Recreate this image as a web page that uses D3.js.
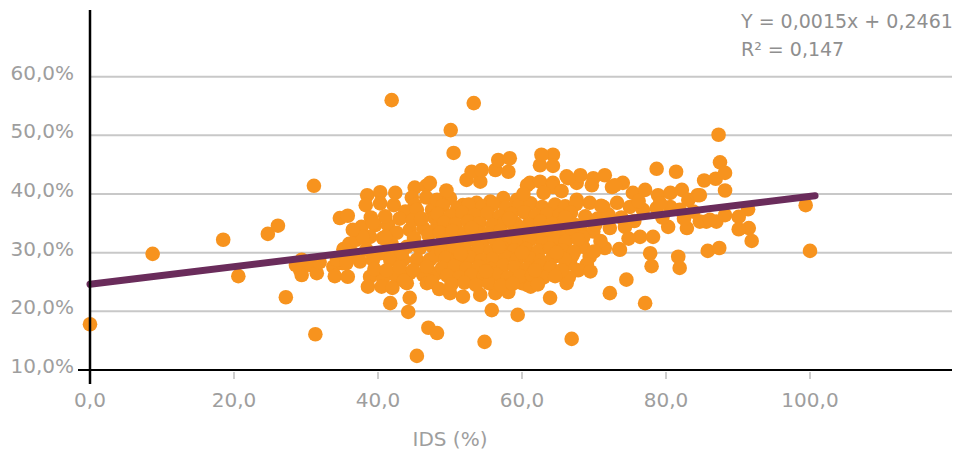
<!DOCTYPE html>
<html>
<head>
<meta charset="utf-8">
<script src="https://cdn.jsdelivr.net/npm/d3@7"></script>
<style>
body { margin: 0; background: #fff; }
svg { display: block; font-family: "DejaVu Sans", sans-serif; }
</style>
</head>
<body>
<svg id="chart" width="957" height="451"></svg>
<script>
// axis ticks
const xTicks = [0, 20, 40, 60, 80, 100];
const yTicks = [10, 20, 30, 40, 50, 60];
const xTitle = "IDS (%)";

// trend line as printed on the chart
const trendSlope = 0.0015;
const trendIntercept = 0.2461;
const trendRange = [0, 100.7];
const equationLines = ["Y = 0,0015x + 0,2461", "R² = 0,147"];

// scatter points [IDS, value in %]
const outlierPoints = [
  [0, 17.8], [8.7, 29.8], [18.5, 32.2], [20.6, 26.0], [24.7, 33.2], [26.1, 34.6], [27.2, 22.4],
  [31.1, 41.4], [31.3, 16.1], [41.9, 56.0], [53.3, 55.5], [50.1, 50.9], [50.5, 47.0], [87.3, 50.1],
  [41.7, 21.4], [44.4, 22.3], [44.2, 19.9], [45.4, 12.4], [47.0, 17.2], [48.2, 16.3], [54.8, 14.8],
  [55.8, 20.2], [59.4, 19.4], [63.9, 22.3], [66.9, 15.3], [72.2, 23.1], [74.5, 25.4], [77.1, 21.4],
  [99.4, 38.1], [100.0, 30.3]
];
const leftPoints = [
  [29.2, 27.0], [30.6, 27.9], [31.5, 26.5], [29.4, 26.2], [33.8, 27.6], [35.1, 28.2], [34.0, 26.0],
  [35.8, 25.9], [28.6, 27.9], [29.4, 28.8], [31.9, 28.4], [34.7, 35.9], [35.8, 36.3], [34.3, 28.8],
  [35.6, 29.1], [35.2, 30.6], [36.0, 31.5],
  [38.5, 39.8], [40.3, 40.3], [42.4, 40.2], [38.3, 38.1], [40.3, 38.4], [42.2, 38.1],
  [45.1, 41.1], [46.7, 41.4], [44.7, 39.4], [46.7, 39.4], [45.1, 38.1],
  [37.7, 34.4], [39.6, 34.7], [41.4, 34.7], [43.8, 37.0], [45.4, 37.3], [47.5, 37.3],
  [37.0, 32.2], [38.9, 32.7], [40.7, 32.5], [42.6, 33.4], [44.4, 33.9], [46.3, 34.2], [48.2, 34.4],
  [36.5, 29.9], [38.4, 30.5], [40.3, 29.9], [42.1, 30.5], [44.0, 31.0], [45.8, 30.8], [47.6, 31.0],
  [35.6, 28.2], [37.5, 28.5], [39.3, 28.8], [41.7, 28.8], [43.5, 28.8], [45.4, 28.8], [47.2, 28.8],
  [38.9, 25.9], [40.7, 25.7], [42.6, 25.9], [44.4, 26.5], [46.3, 26.2], [48.2, 26.5],
  [38.6, 24.2], [40.5, 24.2], [44.0, 24.8], [46.8, 24.8],
  [41.0, 36.2], [43.0, 35.8], [44.8, 35.5], [39.0, 36.0], [41.9, 31.5], [43.3, 30.0], [39.5, 27.2],
  [41.2, 27.0], [43.0, 27.5], [44.9, 27.0], [46.8, 27.6], [42.0, 24.0], [43.6, 25.2], [47.8, 36.0],
  [46.0, 35.8], [48.0, 29.5], [47.0, 33.0], [45.0, 32.5], [39.3, 35.1], [41.0, 32.7], [37.9, 32.7],
  [36.5, 33.9], [47.5, 25.0], [48.5, 23.8]
];
const topPoints = [
  [47.2, 41.9], [48.2, 39.0], [50.0, 39.3], [51.8, 38.1], [53.7, 38.5], [55.6, 38.7], [57.4, 39.3],
  [59.3, 39.0], [61.1, 41.9], [62.5, 42.1], [64.3, 41.9], [66.2, 43.0], [67.6, 41.9],
  [52.3, 42.4], [54.2, 42.1], [53.0, 43.8], [54.4, 44.1], [56.3, 44.1], [58.1, 43.8], [56.7, 45.8],
  [58.3, 46.1], [62.5, 44.9], [64.3, 46.7], [62.7, 46.7], [64.3, 44.8],
  [68.1, 43.2], [69.9, 42.7], [71.5, 43.2], [72.5, 41.2], [74.0, 41.9], [75.4, 40.2], [77.1, 40.7],
  [78.9, 39.8], [80.6, 40.2], [82.2, 40.7], [83.1, 39.0], [84.4, 39.8], [78.7, 44.3], [81.4, 43.8],
  [85.3, 42.3], [86.9, 42.6], [87.5, 45.4], [88.2, 43.6], [88.2, 40.6], [84.7, 39.8], [60.7, 41.5],
  [64.3, 41.2], [66.4, 42.7], [69.7, 41.5], [72.9, 41.5]
];
const rightPoints = [
  [67.6, 39.0], [69.4, 38.5], [71.3, 37.8], [73.2, 38.5], [75.0, 37.8], [76.8, 37.3], [78.7, 37.6],
  [80.6, 37.8], [81.9, 37.3], [83.8, 37.0], [85.6, 35.3], [87.0, 35.3], [80.3, 34.4], [82.9, 34.2],
  [84.7, 35.3], [86.1, 35.6], [91.4, 37.4], [90.1, 36.1], [88.2, 36.4], [91.5, 34.2], [90.1, 34.0],
  [91.9, 32.0], [85.8, 30.3], [87.4, 30.8],
  [68.1, 34.2], [69.9, 33.6], [72.2, 34.2], [74.3, 34.4], [76.4, 32.7], [78.2, 32.7], [71.5, 30.8],
  [73.5, 30.6], [69.4, 29.3], [77.8, 29.9], [78.0, 27.7], [81.7, 29.3], [81.9, 27.4], [66.2, 24.8],
  [66.7, 28.2], [73.6, 30.5],
  [68.8, 36.2], [70.5, 35.8], [72.0, 36.5], [73.8, 36.0], [70.9, 32.0], [68.5, 31.0], [69.0, 28.0],
  [67.8, 27.0], [66.5, 25.8], [70.0, 30.2], [75.6, 35.4], [76.2, 38.8], [79.5, 36.0], [74.8, 32.4],
  [79.2, 38.4], [82.5, 35.8], [68.5, 32.6], [70.2, 34.8], [67.0, 29.5], [69.5, 26.8], [71.0, 38.0]
];
const corePoints = [
  [50.0, 23.1], [51.8, 22.5], [54.2, 22.8], [56.3, 23.1], [58.1, 23.3], [60.7, 24.5], [60.0, 24.8],
  [61.2, 24.2],
  [49.0, 38.0], [51.0, 37.6], [52.6, 38.2], [54.5, 37.9], [56.0, 38.3], [57.8, 37.7], [59.6, 38.1],
  [61.2, 38.4], [62.8, 37.8], [64.6, 38.2], [66.0, 37.9], [67.5, 38.3], [63.0, 40.2], [65.5, 40.5],
  [60.2, 40.0], [49.5, 40.6],
  [48.3, 36.6], [50.1, 36.3], [51.7, 36.8], [53.4, 36.4], [55.2, 36.7], [56.9, 36.2], [58.5, 36.6],
  [60.3, 36.9], [61.9, 36.3], [63.5, 36.6], [65.2, 36.4], [66.8, 36.8],
  [49.2, 35.1], [50.8, 34.8], [52.5, 35.3], [54.1, 35.0], [55.9, 34.7], [57.6, 35.2], [59.1, 35.0],
  [60.9, 34.8], [62.6, 35.3], [64.2, 34.9], [65.9, 35.2], [67.4, 34.7],
  [48.6, 33.4], [50.3, 33.7], [52.0, 33.3], [53.7, 33.6], [55.3, 33.2], [57.0, 33.7], [58.8, 33.4],
  [60.4, 33.6], [62.0, 33.2], [63.7, 33.5], [65.3, 33.8], [67.0, 33.3],
  [49.5, 32.1], [51.2, 31.8], [52.8, 32.2], [54.6, 31.9], [56.2, 32.3], [57.9, 31.7], [59.5, 32.0],
  [61.1, 32.2], [62.9, 31.8], [64.5, 32.1], [66.1, 31.9], [67.8, 32.3],
  [48.8, 30.4], [50.5, 30.7], [52.2, 30.3], [53.9, 30.6], [55.6, 30.2], [57.3, 30.8], [58.9, 30.4],
  [60.6, 30.6], [62.3, 30.3], [63.9, 30.7], [65.6, 30.4], [67.2, 30.1],
  [49.4, 29.1], [51.0, 28.8], [52.7, 29.2], [54.4, 28.7], [56.0, 29.0], [57.7, 29.3], [59.3, 28.9],
  [61.0, 29.1], [62.6, 28.6], [64.3, 29.2], [65.9, 28.9],
  [48.9, 27.4], [50.6, 27.7], [52.3, 27.3], [54.0, 27.6], [55.7, 27.2], [57.4, 27.8], [59.0, 27.5],
  [60.7, 27.3], [62.4, 27.7], [64.0, 27.4], [65.5, 27.0],
  [49.6, 26.1], [51.3, 25.8], [53.0, 26.2], [54.7, 25.9], [56.4, 26.3], [58.0, 25.7], [59.7, 26.0],
  [61.4, 26.2], [63.0, 25.8], [64.6, 26.0],
  [50.2, 24.6], [52.0, 24.9], [53.6, 24.5], [55.4, 24.8], [57.1, 24.4], [58.7, 24.7], [62.2, 24.6],
  [56.8, 31.0], [59.8, 34.2], [63.0, 34.0], [66.0, 36.0], [58.2, 35.8], [53.0, 34.2], [51.5, 29.8],
  [55.0, 26.8], [61.8, 27.0], [60.0, 30.0], [64.8, 30.0]
];

const points = [].concat(outlierPoints, leftPoints, topPoints, rightPoints, corePoints);

const svg = d3.select("#chart");
const textColor = "#9e9e9e";

const x = d3.scaleLinear().domain([0, 120]).range([90, 954]);
const y = d3.scaleLinear().domain([10, 60]).range([370, 76.7]);
const fmt = v => d3.format(".1f")(v).replace(".", ",");

// gridlines
svg.append("g").selectAll("line")
  .data(yTicks.filter(d => d > 10)).enter()
  .append("line")
  .attr("x1", x(0)).attr("x2", 952)
  .attr("y1", d => y(d)).attr("y2", d => y(d))
  .attr("stroke", "#c8c8c8").attr("stroke-width", 2);

// y labels
svg.append("g").selectAll("text")
  .data(yTicks).enter()
  .append("text")
  .attr("x", 74)
  .attr("y", d => y(d) + 3)
  .attr("text-anchor", "end")
  .attr("font-size", 20)
  .attr("fill", textColor)
  .text(d => fmt(d) + "%");

// x ticks and labels
svg.append("g").selectAll("line")
  .data(xTicks.filter(d => d > 0)).enter()
  .append("line")
  .attr("x1", d => x(d)).attr("x2", d => x(d))
  .attr("y1", 372).attr("y2", 379)
  .attr("stroke", "#bdbdbd").attr("stroke-width", 1.5);

svg.append("g").selectAll("text")
  .data(xTicks).enter()
  .append("text")
  .attr("x", d => x(d))
  .attr("y", 407)
  .attr("text-anchor", "middle")
  .attr("font-size", 20)
  .attr("fill", textColor)
  .text(d => fmt(d));

svg.append("text")
  .attr("x", 450).attr("y", 446)
  .attr("text-anchor", "middle")
  .attr("font-size", 20)
  .attr("fill", textColor)
  .text(xTitle);

// dots
svg.append("g").selectAll("circle")
  .data(points).enter()
  .append("circle")
  .attr("cx", d => x(d[0]))
  .attr("cy", d => y(d[1]))
  .attr("r", 7.3)
  .attr("fill", "#F7931E");

// trend line
const trend = trendRange.map(v => [x(v), y((trendSlope * v + trendIntercept) * 100)]);
svg.append("path")
  .attr("d", d3.line()(trend))
  .attr("fill", "none")
  .attr("stroke", "#6A2C5B")
  .attr("stroke-width", 7)
  .attr("stroke-linecap", "round");

// axis lines
svg.append("line")
  .attr("x1", 78).attr("x2", 952)
  .attr("y1", y(10)).attr("y2", y(10))
  .attr("stroke", "#000").attr("stroke-width", 2);
svg.append("line")
  .attr("x1", x(0)).attr("x2", x(0))
  .attr("y1", 10).attr("y2", 384)
  .attr("stroke", "#000").attr("stroke-width", 2.5);

// equation
svg.append("g").selectAll("text")
  .data(equationLines).enter()
  .append("text")
  .attr("x", 741)
  .attr("y", (d, i) => 28 + i * 28)
  .attr("font-size", 19)
  .attr("fill", "#8f8f8f")
  .text(d => d);
</script>
</body>
</html>
